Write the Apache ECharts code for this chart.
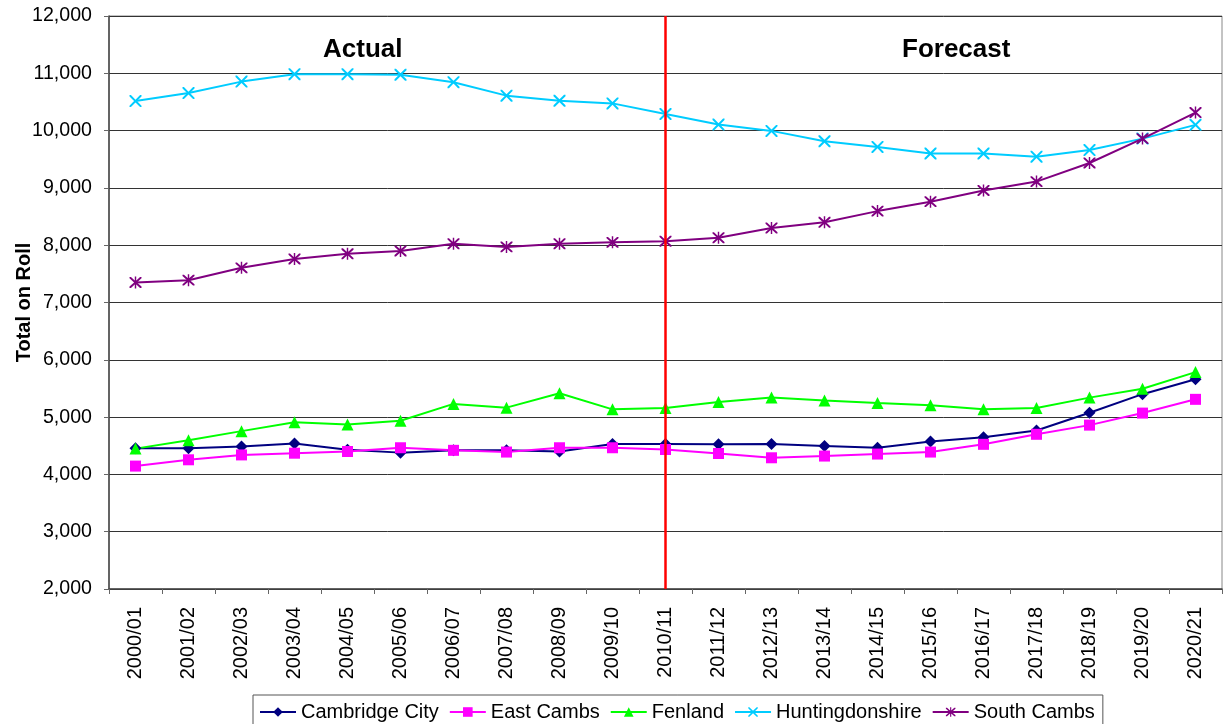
<!DOCTYPE html>
<html>
<head>
<meta charset="utf-8">
<script src="https://cdn.jsdelivr.net/npm/echarts@6/dist/echarts.min.js"></script>
<style>
  html, body { margin: 0; padding: 0; background: #fff; }
  #chart { width: 1226px; height: 724px; }
</style>
</head>
<body>
<div id="chart"></div>
<script>
// School years on the category axis
const years = ['2000/01','2001/02','2002/03','2003/04','2004/05','2005/06','2006/07','2007/08','2008/09','2009/10',
               '2010/11','2011/12','2012/13','2013/14','2014/15','2015/16','2016/17','2017/18','2018/19','2019/20','2020/21'];

// Total on roll per district
const cambridgeCity   = [4455,4455,4485,4540,4430,4380,4420,4420,4400,4530,4530,4525,4530,4495,4465,4575,4650,4765,5075,5400,5660];
const eastCambs       = [4145,4255,4340,4370,4400,4465,4420,4390,4465,4465,4435,4365,4290,4320,4355,4390,4525,4700,4860,5070,5310];
const fenland         = [4450,4595,4755,4910,4870,4935,5230,5165,5415,5135,5160,5265,5340,5290,5245,5205,5135,5160,5340,5495,5785];
const huntingdonshire = [10515,10655,10855,10985,10985,10975,10845,10610,10520,10475,10290,10105,9995,9815,9715,9600,9600,9545,9660,9860,10100];
const southCambs      = [7350,7390,7605,7760,7850,7900,8025,7970,8025,8050,8070,8130,8300,8400,8595,8760,8955,9110,9435,9860,10315];

// Last year of actual figures; later years are forecasts
const splitYear = '2010/11';

const FONT = '"Liberation Sans", Arial, sans-serif';

// Thin cross and asterisk marker outlines
const crossPath = 'path://M0,0 L1.2,0 L5,3.8 L8.8,0 L10,0 L10,1.2 L6.2,5 L10,8.8 L10,10 L8.8,10 L5,6.2 L1.2,10 L0,10 L0,8.8 L3.8,5 L0,1.2 Z';
const starPath = crossPath + ' M4.4,-0.5 L5.6,-0.5 L5.6,10.5 L4.4,10.5 Z';

function lineSeries(name, data, color, symbol, size) {
  return {
    name: name,
    type: 'line',
    data: data,
    symbol: symbol,
    symbolSize: size,
    showAllSymbol: true,
    lineStyle: { color: color, width: 2 },
    itemStyle: { color: color, borderWidth: 0 },
    emphasis: { disabled: true },
    z: 3
  };
}

const series = [
  lineSeries('Cambridge City', cambridgeCity, '#000080', 'diamond', 12),
  lineSeries('East Cambs', eastCambs, '#FF00FF', 'rect', 11),
  lineSeries('Fenland', fenland, '#00FF00', 'triangle', 12),
  lineSeries('Huntingdonshire', huntingdonshire, '#00CCFF', crossPath, 12),
  lineSeries('South Cambs', southCambs, '#800080', starPath, 12)
];

// Vertical divider between actual and forecast years
series[0].markLine = {
  silent: true,
  symbol: 'none',
  label: { show: false },
  lineStyle: { color: '#FF0000', width: 2.5, type: 'solid' },
  data: [{ xAxis: splitYear }]
};

const chart = echarts.init(document.getElementById('chart'));
chart.setOption({
  animation: false,
  backgroundColor: '#fff',
  textStyle: { fontFamily: FONT },
  grid: {
    left: 109, top: 16, right: 4, bottom: 135,
    containLabel: false,
    outerBoundsMode: 'none',
    show: true, borderColor: '#888', borderWidth: 1
  },
  xAxis: {
    type: 'category',
    data: years,
    boundaryGap: true,
    axisLine: { lineStyle: { color: '#444', width: 1.5 } },
    axisTick: { show: true, length: 5, lineStyle: { color: '#666' } },
    axisLabel: { rotate: 90, color: '#000', fontSize: 20, fontFamily: FONT, margin: 18, interval: 0 },
    splitLine: { show: false }
  },
  yAxis: {
    type: 'value',
    min: 2000, max: 12000, interval: 1000,
    name: 'Total on Roll',
    nameLocation: 'middle',
    nameGap: 75,
    nameMoveOverlap: false,
    nameTextStyle: { fontWeight: 'bold', fontSize: 20, color: '#000', fontFamily: FONT },
    axisLine: { show: true, lineStyle: { color: '#444', width: 1.5 } },
    axisTick: { show: true, length: 5, lineStyle: { color: '#666' } },
    axisLabel: {
      color: '#000', fontSize: 19.6, fontFamily: FONT, margin: 17,
      formatter: v => v.toLocaleString('en-US')
    },
    splitLine: { lineStyle: { color: '#333', width: 1 } }
  },
  legend: {
    left: 253, top: 695,
    itemGap: 10,
    itemWidth: 36, itemHeight: 12,
    padding: [7, 8, 8, 6],
    borderColor: '#555', borderWidth: 1,
    backgroundColor: '#fff',
    textStyle: { fontSize: 20, color: '#000', fontFamily: FONT },
    data: ['Cambridge City', 'East Cambs', 'Fenland', 'Huntingdonshire', 'South Cambs']
  },
  graphic: [
    { type: 'text', left: 323, top: 37, style: { text: 'Actual', font: 'bold 26px ' + FONT, fill: '#000' } },
    { type: 'text', left: 902, top: 37, style: { text: 'Forecast', font: 'bold 26px ' + FONT, fill: '#000' } }
  ],
  series: series
});
</script>
</body>
</html>
